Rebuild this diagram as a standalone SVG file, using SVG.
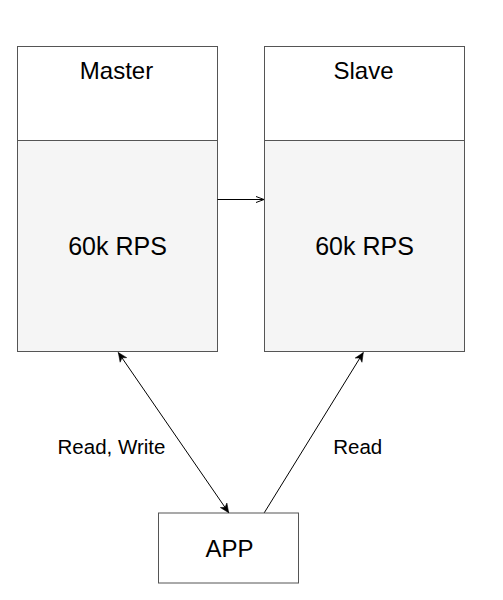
<svg xmlns="http://www.w3.org/2000/svg" width="503" height="600" viewBox="0 0 503 600">
<style>
.box{fill:#ffffff;stroke:#555555;stroke-width:1}
.body{fill:#f5f5f5;stroke:#555555;stroke-width:1}
.t{font-family:"Liberation Sans",Arial,sans-serif;fill:#000;text-anchor:middle}
.big{font-size:24px}
.rps{font-size:25px}
.lbl{font-size:20.5px}
.edge{fill:none;stroke:#000;stroke-width:1}
</style>
<defs>
<marker id="classic" markerUnits="userSpaceOnUse" viewBox="-10 -5 11 10" refX="0" refY="0" markerWidth="11" markerHeight="10" orient="auto-start-reverse">
<path d="M0,0 L-9,-4 L-6.5,0 L-9,4 Z" fill="#000" stroke="#000" stroke-width="0.5" stroke-linejoin="miter"/>
</marker>
<marker id="open" markerUnits="userSpaceOnUse" viewBox="-8 -4 9 8" refX="0" refY="0" markerWidth="9" markerHeight="8" orient="auto">
<path d="M-8,-3 L0,0 L-8,3" fill="none" stroke="#000" stroke-width="1"/>
</marker>
</defs>
<g id="master">
<rect class="box" x="17.5" y="46.5" width="200" height="94"/>
<rect class="body" x="17.5" y="140.5" width="200" height="211"/>
<text class="t big" x="116.5" y="78.5">Master</text>
<text class="t rps" x="117.5" y="254.5">60k RPS</text>
</g>
<g id="slave">
<rect class="box" x="264.5" y="46.5" width="200" height="94"/>
<rect class="body" x="264.5" y="140.5" width="200" height="211"/>
<text class="t big" x="363.5" y="78.5">Slave</text>
<text class="t rps" x="364.5" y="254.5">60k RPS</text>
</g>
<g id="app">
<rect class="box" x="158.5" y="513" width="140" height="70"/>
<text class="t big" x="229.5" y="557">APP</text>
</g>
<g id="connectors">
<line class="edge" x1="217.5" y1="199.5" x2="264" y2="199.5" marker-end="url(#open)"/>
<line class="edge" x1="118.3" y1="352.5" x2="228.7" y2="512.7" marker-start="url(#classic)" marker-end="url(#classic)"/>
<line class="edge" x1="264.3" y1="512.7" x2="363.3" y2="352.5" marker-end="url(#classic)"/>
<text class="t lbl" x="111.5" y="454">Read, Write</text>
<text class="t lbl" x="357.7" y="454">Read</text>
</g>
</svg>
